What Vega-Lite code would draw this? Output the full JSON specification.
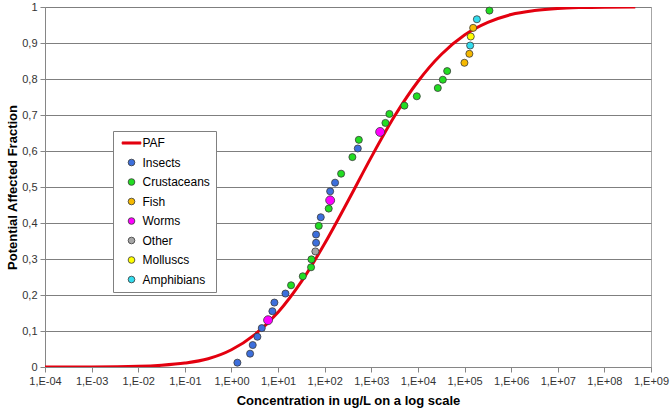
{
  "$schema": "https://vega.github.io/schema/vega-lite/v6.json",
  "width": 606,
  "height": 360,
  "autosize": {"type": "none"},
  "padding": {"left": 45, "top": 7, "right": 19, "bottom": 44},
  "background": "white",
  "config": {
    "font": "Liberation Sans",
    "view": {"stroke": "#a6a6a6", "strokeWidth": 1},
    "axis": {
      "labelFont": "Liberation Sans",
      "labelFontSize": 11,
      "labelColor": "#333333",
      "titleFont": "Liberation Sans",
      "titleFontSize": 13,
      "titleFontWeight": "bold",
      "titleColor": "#000000",
      "domainColor": "#868686",
      "tickColor": "#868686",
      "tickSize": 5
    },
    "legend": {
      "strokeColor": "#808080",
      "fillColor": "white",
      "padding": 6,
      "rowPadding": 7.5,
      "symbolOffset": 6.5,
      "labelOffset": 5,
      "labelFont": "Liberation Sans",
      "labelFontSize": 12,
      "labelColor": "#000000",
      "symbolSize": 45,
      "symbolOpacity": 1,
      "symbolStrokeWidth": 0.8
    }
  },
  "datasets": {
    "curve": [
      {"conc": 0.0001, "paf": 0},
      {"conc": 0.001, "paf": 0.0003},
      {"conc": 0.01, "paf": 0.002},
      {"conc": 0.0316, "paf": 0.005},
      {"conc": 0.1, "paf": 0.011},
      {"conc": 0.316, "paf": 0.023},
      {"conc": 1, "paf": 0.048},
      {"conc": 3.16, "paf": 0.09},
      {"conc": 10, "paf": 0.152},
      {"conc": 31.6, "paf": 0.237},
      {"conc": 100, "paf": 0.343},
      {"conc": 316, "paf": 0.461},
      {"conc": 1000, "paf": 0.583},
      {"conc": 3162, "paf": 0.697},
      {"conc": 10000, "paf": 0.793},
      {"conc": 31623, "paf": 0.868},
      {"conc": 100000, "paf": 0.922},
      {"conc": 316228, "paf": 0.957},
      {"conc": 1000000, "paf": 0.979},
      {"conc": 3162278, "paf": 0.99},
      {"conc": 10000000, "paf": 0.996},
      {"conc": 31622777, "paf": 0.9985},
      {"conc": 100000000, "paf": 0.9995},
      {"conc": 460000000, "paf": 0.9999}
    ],
    "pts": [
      {"group": "Insects", "conc": 1.34, "paf": 0.012},
      {"group": "Insects", "conc": 2.51, "paf": 0.037},
      {"group": "Insects", "conc": 2.86, "paf": 0.061},
      {"group": "Insects", "conc": 3.6, "paf": 0.084},
      {"group": "Insects", "conc": 4.47, "paf": 0.108},
      {"group": "Worms", "conc": 6.1, "paf": 0.13},
      {"group": "Insects", "conc": 7.55, "paf": 0.155},
      {"group": "Insects", "conc": 8.34, "paf": 0.179},
      {"group": "Insects", "conc": 14.4, "paf": 0.204},
      {"group": "Crustaceans", "conc": 19.0, "paf": 0.227},
      {"group": "Crustaceans", "conc": 33.9, "paf": 0.252},
      {"group": "Crustaceans", "conc": 51, "paf": 0.277},
      {"group": "Crustaceans", "conc": 51.9, "paf": 0.299},
      {"group": "Other", "conc": 63.1, "paf": 0.321},
      {"group": "Insects", "conc": 65.3, "paf": 0.345},
      {"group": "Insects", "conc": 65.3, "paf": 0.368},
      {"group": "Crustaceans", "conc": 74.6, "paf": 0.392},
      {"group": "Insects", "conc": 82.4, "paf": 0.416},
      {"group": "Crustaceans", "conc": 122, "paf": 0.44},
      {"group": "Worms", "conc": 131, "paf": 0.463},
      {"group": "Insects", "conc": 131, "paf": 0.488},
      {"group": "Insects", "conc": 167, "paf": 0.512},
      {"group": "Crustaceans", "conc": 225, "paf": 0.537},
      {"group": "Crustaceans", "conc": 393, "paf": 0.583},
      {"group": "Insects", "conc": 513, "paf": 0.607},
      {"group": "Crustaceans", "conc": 540, "paf": 0.631},
      {"group": "Worms", "conc": 1545, "paf": 0.653},
      {"group": "Crustaceans", "conc": 2010, "paf": 0.678},
      {"group": "Crustaceans", "conc": 2443, "paf": 0.703},
      {"group": "Crustaceans", "conc": 5130, "paf": 0.726},
      {"group": "Crustaceans", "conc": 9460, "paf": 0.752},
      {"group": "Crustaceans", "conc": 26700, "paf": 0.775},
      {"group": "Crustaceans", "conc": 34200, "paf": 0.798},
      {"group": "Crustaceans", "conc": 42400, "paf": 0.822},
      {"group": "Fish", "conc": 99500, "paf": 0.845},
      {"group": "Fish", "conc": 127000, "paf": 0.87},
      {"group": "Amphibians", "conc": 132000, "paf": 0.893},
      {"group": "Molluscs", "conc": 136000, "paf": 0.918},
      {"group": "Fish", "conc": 153000, "paf": 0.942},
      {"group": "Amphibians", "conc": 184000, "paf": 0.966},
      {"group": "Crustaceans", "conc": 342000, "paf": 0.99}
    ]
  },
  "encoding": {
    "x": {
      "field": "conc",
      "type": "quantitative",
      "scale": {"type": "log", "domain": [0.0001, 1000000000], "nice": false},
      "axis": {
        "title": "Concentration  in ug/L on a log scale",
        "values": [0.0001, 0.001, 0.01, 0.1, 1, 10, 100, 1000, 10000, 100000, 1000000, 10000000, 100000000, 1000000000],
        "labelExpr": "'1,E' + (round(log(datum.value)/LN10) >= 0 ? '+' : '-') + (abs(round(log(datum.value)/LN10)) < 10 ? '0' : '') + abs(round(log(datum.value)/LN10))",
        "labelOverlap": false,
        "labelFlush": false,
        "labelBound": false,
        "labelPadding": 3,
        "titlePadding": 8,
        "grid": false
      }
    },
    "y": {
      "field": "paf",
      "type": "quantitative",
      "scale": {"domain": [0, 1], "nice": false},
      "axis": {
        "title": "Potential  Affected  Fraction",
        "values": [0, 0.1, 0.2, 0.3, 0.4, 0.5, 0.6, 0.7, 0.8, 0.9, 1],
        "labelExpr": "replace(format(datum.value, '~g'), '.', ',')",
        "grid": true,
        "gridColor": "#7f7f7f",
        "gridWidth": 1,
        "labelPadding": 3,
        "titlePadding": 2
      }
    }
  },
  "layer": [
    {
      "data": {"name": "curve"},
      "mark": {"type": "line", "color": "#e3000f", "strokeWidth": 3, "interpolate": "monotone", "clip": true}
    },
    {
      "data": {"name": "pts"},
      "mark": {"type": "point", "filled": true, "opacity": 1, "strokeWidth": 0.8},
      "encoding": {
        "color": {
          "field": "group",
          "type": "nominal",
          "scale": {
            "domain": ["PAF", "Insects", "Crustaceans", "Fish", "Worms", "Other", "Molluscs", "Amphibians"],
            "range": ["#e3000f", "#3d6fdc", "#22dd22", "#f5b800", "#ff00ff", "#a6a6a6", "#ffff00", "#33dcee"]
          },
          "legend": {"title": null, "orient": "none", "legendX": 68, "legendY": 124, "rowPadding": 7.5, "labelOffset": 5, "symbolOffset": 6.5, "padding": 6}
        },
        "shape": {
          "field": "group",
          "type": "nominal",
          "scale": {
            "domain": ["PAF", "Insects", "Crustaceans", "Fish", "Worms", "Other", "Molluscs", "Amphibians"],
            "range": ["M-2.8,-0.33H2.8V0.33H-2.8Z", "circle", "circle", "circle", "circle", "circle", "circle", "circle"]
          },
          "legend": {"title": null, "orient": "none", "legendX": 68, "legendY": 124, "rowPadding": 7.5, "labelOffset": 5, "symbolOffset": 6.5, "padding": 6}
        },
        "stroke": {
          "field": "group",
          "type": "nominal",
          "scale": {
            "domain": ["PAF", "Insects", "Crustaceans", "Fish", "Worms", "Other", "Molluscs", "Amphibians"],
            "range": ["#e3000f", "#3a3a3a", "#3a3a3a", "#3a3a3a", "#3a3a3a", "#3a3a3a", "#3a3a3a", "#3a3a3a"]
          },
          "legend": {"title": null, "orient": "none", "legendX": 68, "legendY": 124, "rowPadding": 7.5, "labelOffset": 5, "symbolOffset": 6.5, "padding": 6}
        },
        "size": {"condition": {"test": "datum.group === 'Worms'", "value": 80}, "value": 50}
      }
    }
  ]
}
